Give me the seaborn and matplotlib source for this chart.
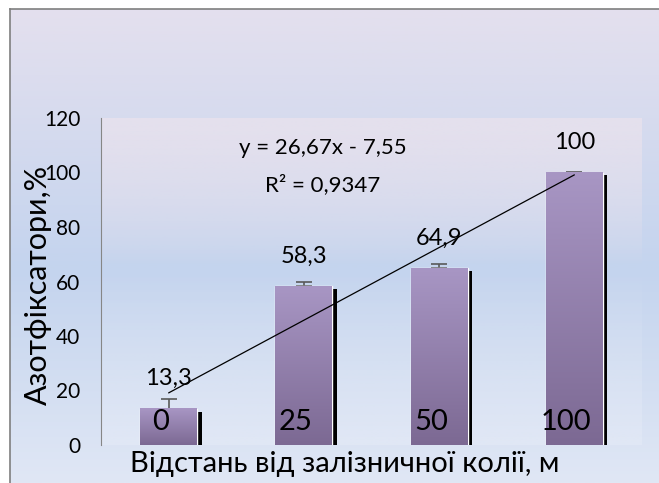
import numpy as np
import matplotlib
matplotlib.use('Agg')
import matplotlib.pyplot as plt
import matplotlib.patheffects as pe
import matplotlib.transforms as mtransforms
from matplotlib.colors import LinearSegmentedColormap
from matplotlib.container import BarContainer
import seaborn as sns

# data
distance = ['0', '25', '50', '100']
azot = [13.3, 58.3, 64.9, 100]
azot_err = [3.6, 1.5, 1.6, 0.3]
azot_text = ['13,3', '58,3', '64,9', '100']

sns.set_style('white')
plt.rcParams['font.family'] = ['Lato', 'DejaVu Sans']
plt.rcParams['text.color'] = 'black'
plt.rcParams['axes.labelcolor'] = 'black'
plt.rcParams['xtick.labelcolor'] = 'black'
plt.rcParams['ytick.labelcolor'] = 'black'

fig = plt.figure(figsize=(6.59, 4.83), dpi=100)

# chart area background (vertical gradient) with grey frame on top/left
bg = fig.add_axes([10/659, 0, 1 - 10/659, 1 - 9/483], zorder=-5)
bg_cmap = LinearSegmentedColormap.from_list('bg', [(0, '#e4e0ee'), (0.55, '#c4d4ee'), (1, '#e0e7f5')])
bg.imshow(np.linspace(0, 1, 256).reshape(-1, 1), aspect='auto', cmap=bg_cmap, extent=[0, 1, 0, 1])
bg.set_xticks([])
bg.set_yticks([])
for k, s in bg.spines.items():
    s.set_color('#7f7f7f')
    s.set_linewidth(1.2)
    s.set_visible(k in ('top', 'left'))

ax = fig.add_axes([101/659, 38/483, 541/659, 327/483])
ax.patch.set_alpha(0)

# plot area fill: lavender at top fading out
n = 256
t = np.linspace(0, 1, n)
rgba = np.zeros((n, 1, 4))
lav = np.array([230, 225, 237]) / 255
wht = np.array([232, 237, 248]) / 255
for i, v in enumerate(t):
    if v < 0.45:
        rgba[i, 0, :3] = lav
        rgba[i, 0, 3] = 0.95 * (1 - v / 0.45) ** 0.8
    else:
        rgba[i, 0, :3] = wht
        rgba[i, 0, 3] = 0.45 * (v - 0.45) / 0.55
ax.imshow(rgba, aspect='auto', extent=[0, 1, 0, 1], transform=ax.transAxes, zorder=0)

# error bars sit behind the bars, so only the upper part shows
ax.errorbar(range(len(azot)), azot, yerr=[np.zeros(len(azot)), azot_err], fmt='none',
            ecolor='#595959', elinewidth=1.2, capsize=6, capthick=1.2, zorder=1)

sns.barplot(x=distance, y=azot, width=0.42, color='#9b89b5', errorbar=None, ax=ax, zorder=2)
bars = [c for c in ax.containers if isinstance(c, BarContainer)][0]

bar_cmap = LinearSegmentedColormap.from_list('bar', ['#a896c4', '#7c6993'])
grad = np.linspace(0, 1, 256).reshape(-1, 1)
for p in bars.patches:
    p.set_path_effects([pe.SimplePatchShadow(offset=(3.3, -2), shadow_rgbFace='black', alpha=1.0), pe.Normal()])
    x0, w, h = p.get_x(), p.get_width(), p.get_height()
    ax.imshow(grad, aspect='auto', cmap=bar_cmap, extent=[x0, x0 + w, 0, h], zorder=3)

# linear trend over category index 1..4
idx = np.arange(1, len(azot) + 1)
coef = np.polyfit(idx, azot, 1)
fit = np.polyval(coef, idx)
r2 = 1 - np.sum((np.array(azot) - fit) ** 2) / np.sum((np.array(azot) - np.mean(azot)) ** 2)
ax.plot([0, len(azot) - 1], [fit[0], fit[-1]], color='black', lw=0.9, zorder=5)

eq = f"y = {coef[0]:.2f}x - {abs(coef[1]):.2f}".replace('.', ',')
ax.text(0.41, 0.908, eq, transform=ax.transAxes, ha='center', va='center', fontsize=16, zorder=6)
ax.text(0.41, 0.795, f"R² = {r2:.4f}".replace('.', ','), transform=ax.transAxes,
        ha='center', va='center', fontsize=16, zorder=6)

ax.bar_label(bars, labels=azot_text, padding=14, fontsize=17, zorder=6)

ax.set_xlim(-0.5, 3.5)
ax.set_ylim(0, 120)
ax.set_yticks(range(0, 121, 20))

for s in ['top', 'right', 'bottom']:
    ax.spines[s].set_visible(False)
ax.spines['left'].set_color('#868686')

ax.tick_params(axis='y', direction='inout', length=12, width=1, color='#868686', pad=9, labelsize=15)
ax.tick_params(axis='x', length=0, pad=-26, labelsize=21)
ax.xaxis.set_zorder(8)
shift = mtransforms.ScaledTranslation(-8/100, 0, fig.dpi_scale_trans)
for lab in ax.get_xticklabels():
    lab.set_transform(lab.get_transform() + shift)

ax.set_xlabel('Відстань від залізничної колії, м', fontsize=21)
ax.xaxis.set_label_coords(0.451, -0.018)
ax.set_ylabel('Азотфіксатори,%', fontsize=22)
ax.yaxis.set_label_coords(-0.09, 0.49)

fig.savefig('out.png', dpi=100)
